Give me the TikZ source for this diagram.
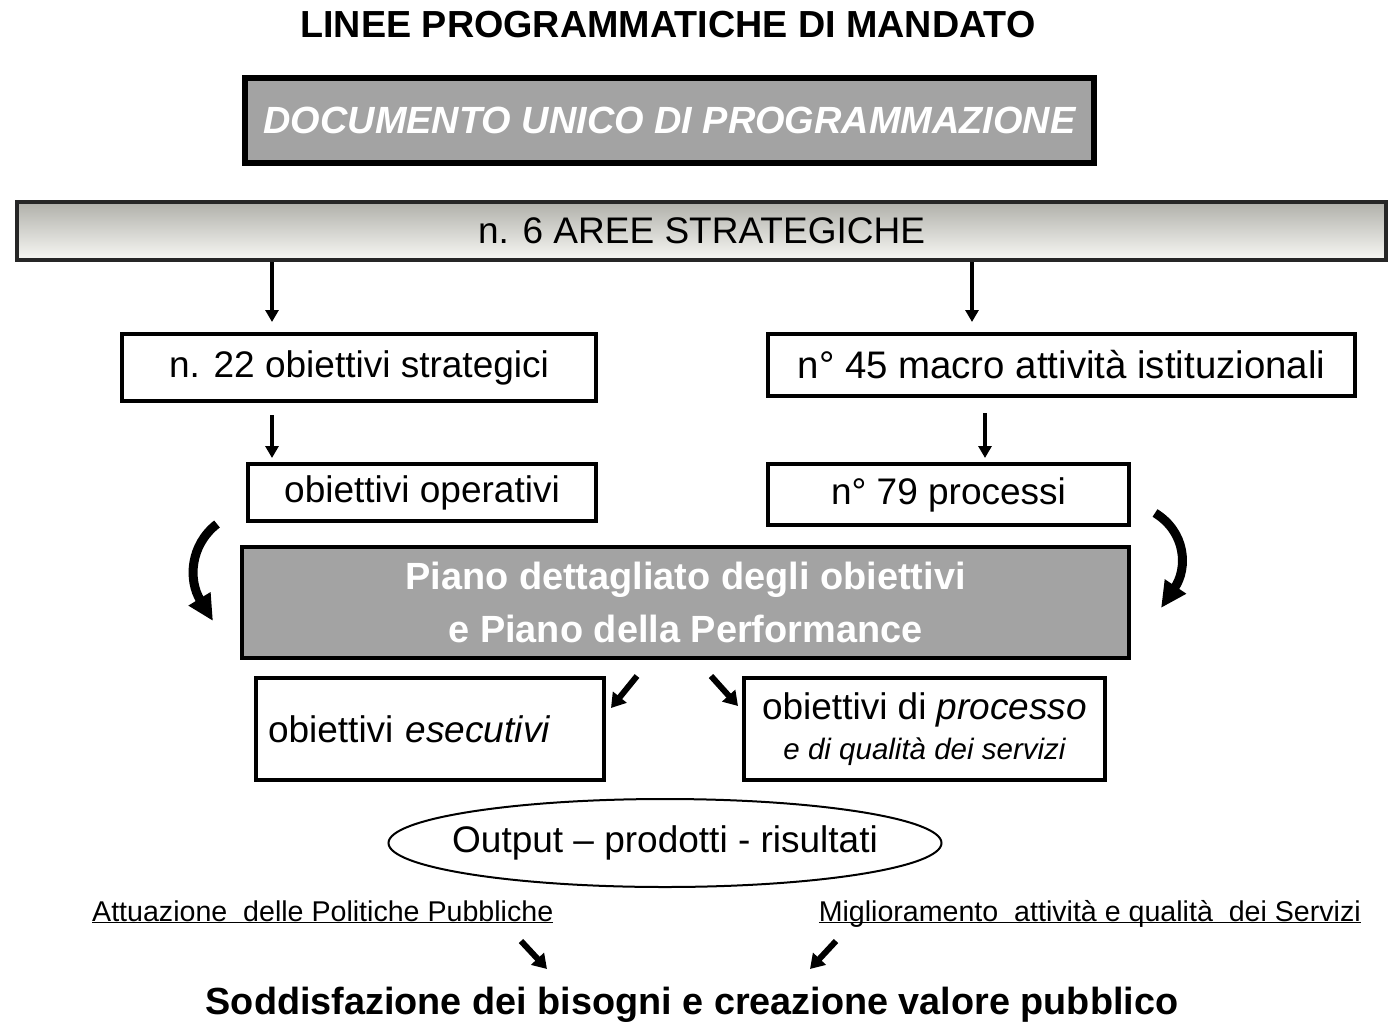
\documentclass[tikz,border=0pt]{standalone}
\usepackage{fontspec}
\setmainfont{Liberation Sans}
\usetikzlibrary{arrows.meta,shapes.geometric}
\newcommand\fsbig{\fontsize{37pt}{44pt}\selectfont}
\newcommand\fsbigger{\fontsize{38.4pt}{45pt}\selectfont}
\newcommand\fsgray{\fontsize{37.9pt}{45pt}\selectfont}
\newcommand\fstitle{\fontsize{37.7pt}{44pt}\selectfont}
\newcommand\fsbottom{\fontsize{37.8pt}{45pt}\selectfont}
\newcommand\fssmall{\fontsize{28.6pt}{34pt}\selectfont}
\newcommand\fsproc{\fontsize{29.5pt}{34pt}\selectfont}
\definecolor{boxgray}{RGB}{163,163,163}
\definecolor{bartop}{RGB}{176,176,170}
\definecolor{barbot}{RGB}{248,248,244}
\begin{document}
\begin{tikzpicture}[x=1pt,y=-1pt,
  box/.style={draw=black,line width=4pt,fill=white,inner sep=0pt,font=\fsbig},
  graybox/.style={draw=black,line width=5pt,fill=boxgray,inner sep=0pt,text=white,font=\fsgray\bfseries},
  varr/.style={line width=4pt,-{Triangle[width=13pt,length=12pt]}},
  darr/.style={line width=6pt,-{Triangle[width=17pt,length=14pt]}},
  carr/.style={line width=9pt,-{Triangle[width=24pt,length=26pt]}},
  lbl/.style={inner sep=0pt}]
\useasboundingbox (0,0) rectangle (1391,1025);

\node[lbl,font=\fstitle\bfseries] (title) at (668,25) {LINEE PROGRAMMATICHE DI MANDATO};

\node[graybox,line width=6pt,minimum width=849,minimum height=85,font=\fsgray\bfseries\itshape] (dup) at (669.5,120.5) {DOCUMENTO UNICO DI PROGRAMMAZIONE};

\node[draw=black!85,line width=4pt,top color=bartop,bottom color=barbot,minimum width=1369,minimum height=58,inner sep=0pt,font=\fsbig] (bar) at (701.5,231) {n. 6 AREE STRATEGICHE};

\node[box,minimum width=474,minimum height=67] (strat) at (359,367.5) {n. 22 obiettivi strategici};
\node[box,minimum width=587,minimum height=62,font=\fsbigger] (macro) at (1061.5,365) {n\textdegree{} 45 macro attività istituzionali};
\node[box,minimum width=348,minimum height=57] (oper) at (422,492.5) {obiettivi operativi};
\node[box,minimum width=361,minimum height=61] (proc) at (948.5,494.5) {n\textdegree{} 79 processi};

\node[graybox,line width=4pt,minimum width=887,minimum height=111,align=center] (piano) at (685.5,602.5) {Piano dettagliato degli obiettivi\\[8pt]e Piano della Performance};

\node[box,minimum width=348,minimum height=102,text width=324,inner xsep=12pt,align=left] (esec) at (430,729) {obiettivi \textit{esecutivi}};
\node[box,minimum width=361,minimum height=102,align=center] (proco) at (924.5,729) {obiettivi di \textit{processo}\\[-4pt]{\fsproc\itshape e di qualità dei servizi}};

\node[lbl,font=\fsbig] (out) at (665,843) {Output -- prodotti - risultati};
\draw[line width=2pt] (out.center) ellipse [x radius=276.5pt, y radius=44pt];

\node[lbl,anchor=base west,font=\fssmall] (attu) at (92,921) {\underline{\smash{Attuazione\ \ delle Politiche Pubbliche}}};
\node[lbl,anchor=base east,font=\fssmall] (migl) at (1361,921) {\underline{\smash{Miglioramento\ \ attività e qualità\ \ dei Servizi}}};

\node[lbl,font=\fsbottom\bfseries] (sodd) at (692,1005) {Soddisfazione dei bisogni e creazione valore pubblico};

% vertical arrows
\draw[varr] (bar.south -| strat.north) ++(-87,0) coordinate (a1s) -- ([xshift=-87pt,yshift=10pt]strat.north);
\draw[varr] ([xshift=-89.5pt]bar.south -| macro.north) coordinate (a2s) -- ([xshift=-89.5pt,yshift=10pt]macro.north);
\draw[varr] ([xshift=-87pt,yshift=-12pt]strat.south) -- ([xshift=-150pt,yshift=4pt]oper.north);
\draw[varr] ([xshift=-76.5pt,yshift=-15pt]macro.south) -- ([xshift=36.5pt,yshift=4pt]proc.north);

% curved arrows
\coordinate (cl1) at (217,524);
\coordinate (cl2) at (213,621);
\draw[carr] (cl1) .. controls (190,545) and (188,580) .. (cl2);
\coordinate (cr1) at (1155,513);
\coordinate (cr2) at (1161,608);
\draw[carr] (cr1) .. controls (1186,532) and (1188,568) .. (cr2);

% diagonal arrows
\coordinate (d1s) at (637,676);
\coordinate (d1e) at (611,708);
\draw[darr] (d1s) -- (d1e);
\coordinate (d2s) at (711,676);
\coordinate (d2e) at (738,706);
\draw[darr] (d2s) -- (d2e);

\coordinate (b1s) at (521,941);
\coordinate (b1e) at (547,969);
\draw[darr] (b1s) -- (b1e);
\coordinate (b2s) at (836,941);
\coordinate (b2e) at (810,969);
\draw[darr] (b2s) -- (b2e);
\end{tikzpicture}
\end{document}
